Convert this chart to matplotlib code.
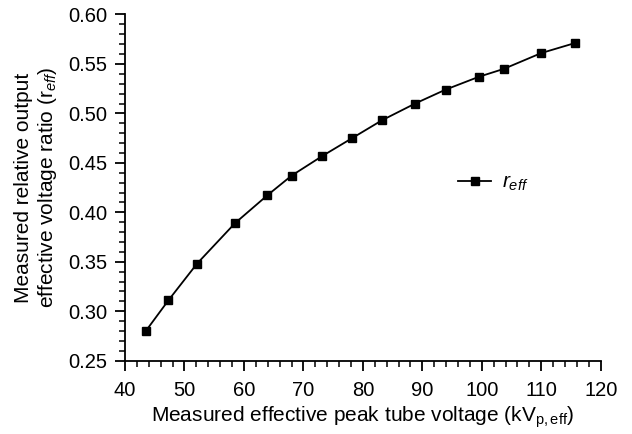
import matplotlib
matplotlib.use("Agg")
import matplotlib.pyplot as plt
from matplotlib.ticker import MultipleLocator

plt.rcParams["font.family"] = ["Liberation Sans", "DejaVu Sans"]
plt.rcParams["mathtext.fontset"] = "custom"
plt.rcParams["mathtext.rm"] = "Liberation Sans"
plt.rcParams["mathtext.it"] = "Liberation Sans:italic"

# measured effective peak tube voltage (kVp,eff) and ratio r_eff
kvp = [43.5, 47.3, 52.1, 58.5, 63.9, 68.0, 73.2, 78.2, 83.2, 88.8,
       93.9, 99.5, 103.7, 110.0, 115.6]
r_eff = [0.280, 0.311, 0.348, 0.389, 0.417, 0.437, 0.457, 0.475, 0.493,
         0.510, 0.524, 0.537, 0.545, 0.561, 0.571]

fig = plt.figure(figsize=(6.32, 4.34), dpi=100)
ax = fig.add_axes([0.1978, 0.169, 0.7527, 0.7976])

ax.plot(kvp, r_eff, color="black", lw=1.3, marker="s", markersize=6,
        label="$r_{eff}$")

ax.set_xlim(40, 120)
ax.set_ylim(0.25, 0.60)
ax.xaxis.set_major_locator(MultipleLocator(10))
ax.xaxis.set_minor_locator(MultipleLocator(2))
ax.yaxis.set_major_locator(MultipleLocator(0.05))
ax.yaxis.set_minor_locator(MultipleLocator(0.01))
ax.yaxis.set_major_formatter(plt.FormatStrFormatter("%.2f"))

ax.spines["top"].set_visible(False)
ax.spines["right"].set_visible(False)
for sp in ("left", "bottom"):
    ax.spines[sp].set_linewidth(1.3)
ax.tick_params(which="major", direction="out", length=7, width=1.3,
               labelsize=14.5, colors="black", pad=6)
ax.tick_params(which="minor", direction="out", length=4, width=1.1)
ax.tick_params(axis="x", which="major", pad=8)

ax.set_xlabel("Measured effective peak tube voltage (kV$_{\\mathrm{p,eff}}$)",
              fontsize=15, labelpad=3)
ax.set_ylabel("Measured relative output\neffective voltage ratio (r$_{eff}$)",
              fontsize=15, labelpad=6)

ax.legend(loc="center left", bbox_to_anchor=(0.70, 0.513), frameon=False,
          fontsize=15, handlelength=1.6, handletextpad=0.5,
          borderpad=0, borderaxespad=0)

fig.savefig("out.png", dpi=100)
